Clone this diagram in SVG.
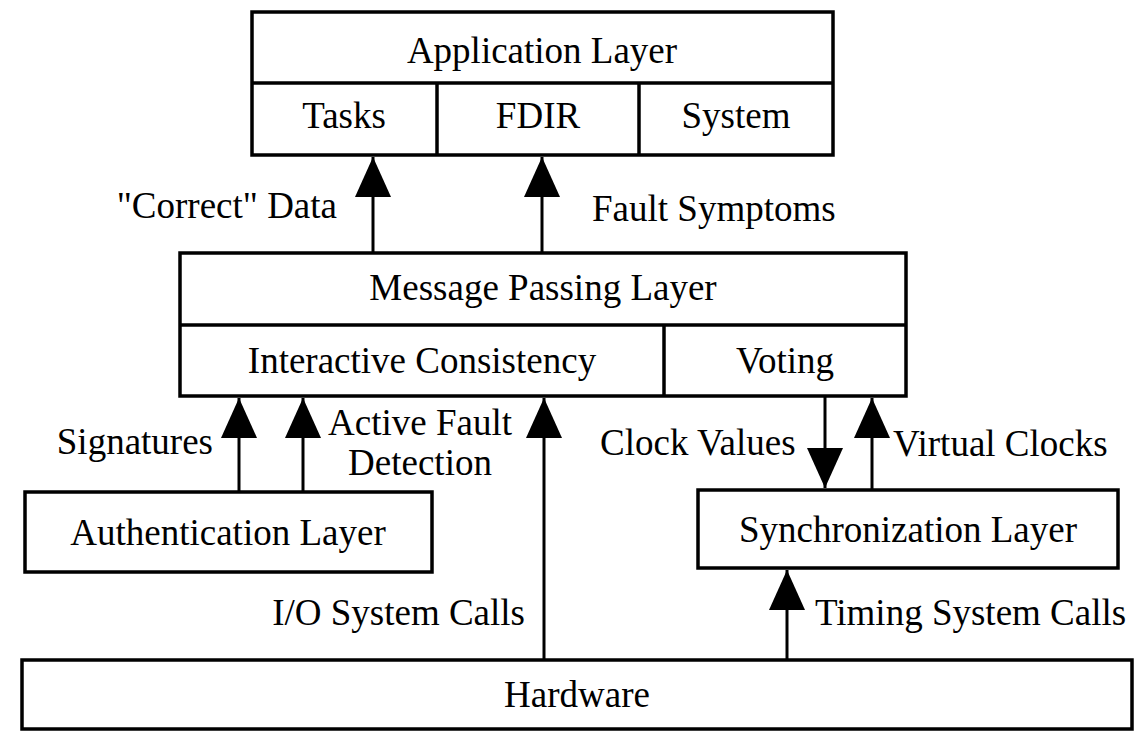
<svg xmlns="http://www.w3.org/2000/svg" width="1141" height="733" viewBox="0 0 1141 733">
  <style>
    .box { fill: #ffffff; stroke: #000000; stroke-width: 3.5; }
    .div { fill: none; stroke: #000000; stroke-width: 3.5; }
    .wire { fill: none; stroke: #000000; stroke-width: 3; marker-end: url(#head); }
    text { font-family: "Liberation Serif", "Times New Roman", serif; font-size: 37px; fill: #000000; }
    .c { text-anchor: middle; }
    .e { text-anchor: end; }
  </style>
  <defs>
    <marker id="head" viewBox="0 0 40 36" refX="40" refY="18" markerWidth="40" markerHeight="36" markerUnits="userSpaceOnUse" orient="auto">
      <path d="M0,0 L40,18 L0,36 Z" fill="#000000"/>
    </marker>
  </defs>
  <rect width="1141" height="733" fill="#ffffff"/>

  <!-- top layer with three sub-parts -->
  <g id="application-layer">
    <rect class="box" x="252" y="12" width="581" height="143"/>
    <line class="div" x1="252" y1="83" x2="833" y2="83"/>
    <line class="div" x1="437" y1="83" x2="437" y2="155"/>
    <line class="div" x1="639" y1="83" x2="639" y2="155"/>
    <text class="c" x="542" y="63">Application Layer</text>
    <text class="c" x="344" y="128">Tasks</text>
    <text class="c" x="538" y="128">FDIR</text>
    <text class="c" x="736" y="128">System</text>
  </g>

  <!-- middle layer -->
  <g id="message-passing-layer">
    <rect class="box" x="180" y="253" width="726" height="143"/>
    <line class="div" x1="180" y1="325" x2="906" y2="325"/>
    <line class="div" x1="664" y1="325" x2="664" y2="396"/>
    <text class="c" x="543" y="300">Message Passing Layer</text>
    <text class="c" x="422" y="373">Interactive Consistency</text>
    <text class="c" x="785" y="373">Voting</text>
  </g>

  <g id="authentication-layer">
    <rect class="box" x="25" y="492" width="407" height="80"/>
    <text class="c" x="228" y="545">Authentication Layer</text>
  </g>

  <g id="synchronization-layer">
    <rect class="box" x="698" y="490" width="420" height="78"/>
    <text class="c" x="908" y="542">Synchronization Layer</text>
  </g>

  <g id="hardware">
    <rect class="box" x="22" y="660" width="1110" height="69"/>
    <text class="c" x="577" y="707">Hardware</text>
  </g>

  <!-- connectors between layers -->
  <g id="connectors">
    <line class="wire" x1="373" y1="253" x2="373" y2="157"/>
    <line class="wire" x1="542" y1="253" x2="542" y2="157"/>
    <line class="wire" x1="239" y1="492" x2="239" y2="398"/>
    <line class="wire" x1="303" y1="492" x2="303" y2="398"/>
    <line class="wire" x1="544" y1="660" x2="544" y2="398"/>
    <line class="wire" x1="825" y1="396" x2="825" y2="488"/>
    <line class="wire" x1="872" y1="490" x2="872" y2="398"/>
    <line class="wire" x1="787" y1="660" x2="787" y2="570"/>
  </g>

  <!-- connector labels -->
  <g id="labels">
    <text class="e" x="337" y="218">"Correct" Data</text>
    <text x="592" y="221">Fault Symptoms</text>
    <text class="e" x="213" y="454">Signatures</text>
    <text class="c" x="420" y="435">Active Fault</text>
    <text class="c" x="420" y="475">Detection</text>
    <text x="600" y="455">Clock Values</text>
    <text x="893" y="456">Virtual Clocks</text>
    <text class="e" x="525" y="625">I/O System Calls</text>
    <text x="815" y="625">Timing System Calls</text>
  </g>
</svg>
